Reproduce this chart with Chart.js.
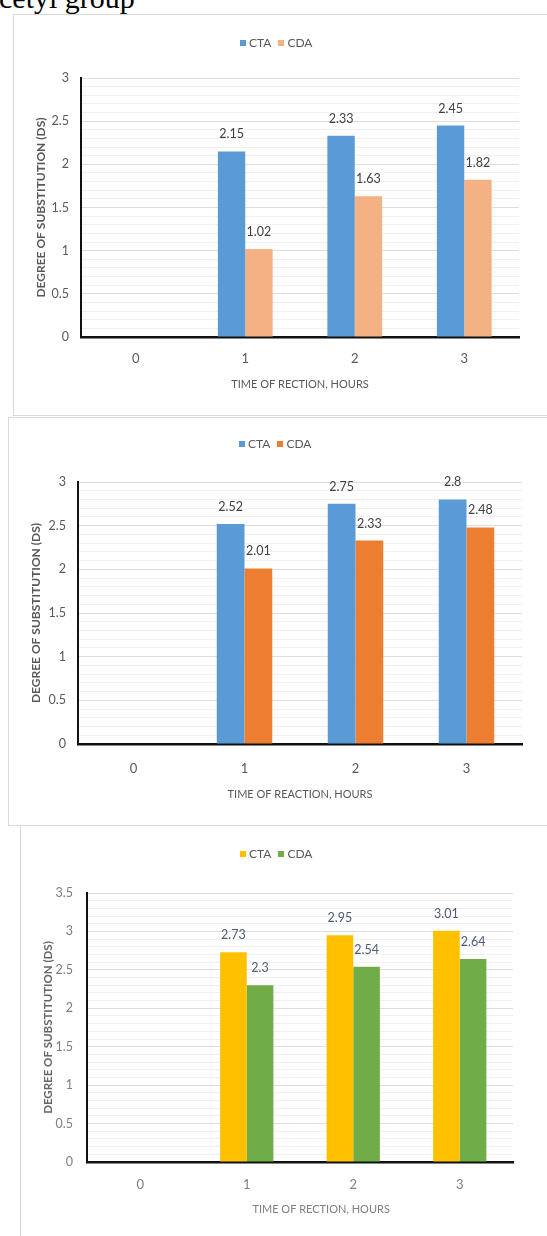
<!DOCTYPE html>
<html>
<head>
<meta charset="utf-8">
<script src="https://cdn.jsdelivr.net/npm/chart.js@4.4.1/dist/chart.umd.min.js"></script>
<style>
  body { margin: 0; width: 547px; height: 1236px; background: #fff; overflow: hidden; position: relative; font-family: Lato, "Open Sans", sans-serif; }
  .heading { position: absolute; left: -1px; top: -17px; font-family: "Liberation Serif", "Times New Roman", serif; font-size: 30px; line-height: 30px; color: #000; white-space: nowrap; }
  .box { position: absolute; border: 1px solid #d9d9d9; background: #fff; box-sizing: border-box; }
  .box canvas { position: absolute; left: 0; top: 0; }
  .legend { position: absolute; display: flex; align-items: center; font-size: 12px; color: #595959; white-space: nowrap; }
  .legend span.sq { display: inline-block; width: 6px; height: 6px; margin-right: 3px; }
  .legend span.lbl { margin-right: 7px; }
</style>
</head>
<body>
<div class="heading">cetyl group</div>

<div class="box" id="box1" style="left:13px; top:14px; width:560px; height:402px;">
  <canvas id="chart1"></canvas>
  <div class="legend" id="legend1" style="left:226px; top:20px;"></div>
</div>
<div class="box" id="box2" style="left:8px; top:417px; width:560px; height:409px;">
  <canvas id="chart2"></canvas>
  <div class="legend" id="legend2" style="left:230px; top:18px;"></div>
</div>
<div class="box" id="box3" style="left:20px; top:825px; width:560px; height:430px;">
  <canvas id="chart3"></canvas>
  <div class="legend" id="legend3" style="left:219px; top:20px;"></div>
</div>

<script>
// categories (time of reaction, hours)
const categories = ['0', '1', '2', '3'];
const seriesNames = ['CTA', 'CDA'];

// chart 1 values
const cta1 = [null, 2.15, 2.33, 2.45];
const cda1 = [null, 1.02, 1.63, 1.82];
// chart 2 values
const cta2 = [null, 2.52, 2.75, 2.8];
const cda2 = [null, 2.01, 2.33, 2.48];
// chart 3 values
const cta3 = [null, 2.73, 2.95, 3.01];
const cda3 = [null, 2.3, 2.54, 2.64];

const yMax1 = 3;
const yMax2 = 3;
const yMax3 = 3.5;

const xTitle1 = 'TIME OF RECTION, HOURS';
const xTitle2 = 'TIME OF REACTION, HOURS';
const xTitle3 = 'TIME OF RECTION, HOURS';
const yTitle = 'DEGREE OF SUBSTITUTION (DS)';

const fontFamily = 'Lato, "Open Sans", sans-serif';

// value labels above each bar
const barLabels = {
    id: 'barLabels',
    afterDatasetsDraw(chart, args, opts) {
        let ctx = chart.ctx;
        ctx.save();
        ctx.font = opts.size + 'px ' + fontFamily;
        ctx.fillStyle = opts.color;
        ctx.textAlign = 'center';
        ctx.textBaseline = 'middle';
        chart.data.datasets.forEach((ds, i) => {
            chart.getDatasetMeta(i).data.forEach((bar, j) => {
                let v = ds.data[j];
                if (v == null) return;
                ctx.fillText(String(v), bar.x, bar.y - opts.offset);
            });
        });
        ctx.restore();
    }
};

function renderLegend(id, colors) {
    document.getElementById(id).innerHTML = seriesNames
        .map((n, i) => `<span class="sq" style="background:${colors[i]}"></span><span class="lbl">${n}</span>`)
        .join('');
}

function makeChart(cfg) {
    let canvas = document.getElementById(cfg.id);
    canvas.width = cfg.w;
    canvas.height = cfg.h;
    canvas.style.width = cfg.w + 'px';
    canvas.style.height = cfg.h + 'px';

    return new Chart(canvas, {
        type: 'bar',
        data: {
            labels: categories,
            datasets: [
                { label: seriesNames[0], data: cfg.cta, backgroundColor: cfg.colors[0], barPercentage: 1, categoryPercentage: 0.5 },
                { label: seriesNames[1], data: cfg.cda, backgroundColor: cfg.colors[1], barPercentage: 1, categoryPercentage: 0.5 }
            ]
        },
        plugins: [barLabels],
        options: {
            responsive: false,
            animation: false,
            devicePixelRatio: 1,
            layout: { padding: { left: 0, top: cfg.area.top, right: cfg.w - cfg.area.right, bottom: 0 } },
            plugins: {
                legend: { display: false },
                tooltip: { enabled: false },
                barLabels: { size: 12.5, color: cfg.labelColor, offset: 17 }
            },
            scales: {
                x: {
                    grid: { display: false, drawTicks: false },
                    border: { color: '#111', width: 2.5 },
                    ticks: { color: cfg.textColor, font: { family: fontFamily, size: 13 }, padding: cfg.xTickPad },
                    title: { display: true, text: cfg.xTitle, color: cfg.textColor, font: { family: fontFamily, size: 11 }, padding: { top: 0, bottom: cfg.xTitlePad } },
                    afterFit: s => { s.height = cfg.h - cfg.area.bottom; }
                },
                y: {
                    min: 0,
                    max: cfg.yMax,
                    grid: {
                        drawTicks: false,
                        color: c => (Math.round(c.tick.value * 10) % 5 === 0 ? '#dedede' : '#f0f0f0'),
                        lineWidth: 1
                    },
                    border: { color: '#111', width: 2 },
                    ticks: {
                        stepSize: 0.1,
                        autoSkip: false,
                        padding: cfg.yTickPad,
                        color: cfg.textColor,
                        font: { family: fontFamily, size: 12.5 },
                        callback: v => (Math.round(v * 10) % 5 === 0 ? String(Math.round(v * 10) / 10) : '')
                    },
                    title: { display: true, text: yTitle, color: cfg.yTitleColor, font: { family: fontFamily, size: cfg.yTitleSize, weight: 'bold' }, padding: { top: 20, bottom: 0 } },
                    afterFit: s => { s.width = cfg.area.left; }
                }
            }
        }
    });
}

renderLegend('legend1', ['#5B9BD5', '#F4B183']);
renderLegend('legend2', ['#5B9BD5', '#ED7D31']);
renderLegend('legend3', ['#FFC000', '#70AD47']);

makeChart({
    id: 'chart1', w: 534, h: 401, cta: cta1, cda: cda1, yMax: yMax1,
    colors: ['#5B9BD5', '#F4B183'], area: { left: 67, top: 63, right: 505, bottom: 322 },
    xTitle: xTitle1, xTickPad: 14, xTitlePad: 25, yTickPad: 12, yTitleSize: 12,
    textColor: '#595959', yTitleColor: '#595959', labelColor: '#404040'
});
makeChart({
    id: 'chart2', w: 539, h: 408, cta: cta2, cda: cda2, yMax: yMax2,
    colors: ['#5B9BD5', '#ED7D31'], area: { left: 69, top: 64, right: 513, bottom: 326 },
    xTitle: xTitle2, xTickPad: 17, xTitlePad: 25, yTickPad: 12, yTitleSize: 12,
    textColor: '#595959', yTitleColor: '#595959', labelColor: '#404040'
});
makeChart({
    id: 'chart3', w: 527, h: 411, cta: cta3, cda: cda3, yMax: yMax3,
    colors: ['#FFC000', '#70AD47'], area: { left: 66, top: 67, right: 492, bottom: 336 },
    // leading spaces push the title right, as in the source figure
    xTitle: ' '.repeat(15) + xTitle3, xTickPad: 15, xTitlePad: 21, yTickPad: 14, yTitleSize: 11.5,
    textColor: '#7f7f7f', yTitleColor: '#666666', labelColor: '#4f5b73'
});
</script>
</body>
</html>
